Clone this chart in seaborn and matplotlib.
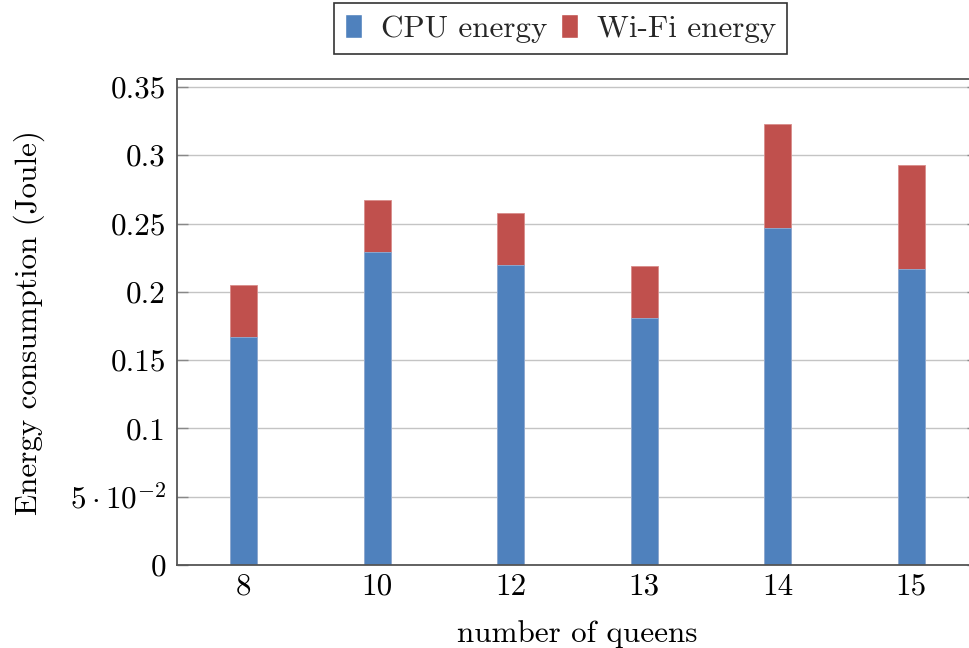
import matplotlib
matplotlib.use("Agg")
import matplotlib.pyplot as plt
import seaborn as sns
import numpy as np
import pandas as pd

# Energy measurements per problem size
queens = ["8", "10", "12", "13", "14", "15"]
cpu_energy = [0.167, 0.229, 0.220, 0.181, 0.247, 0.217]
wifi_energy = [0.038, 0.038, 0.038, 0.038, 0.076, 0.076]

y_ticks = [0, 0.05, 0.1, 0.15, 0.2, 0.25, 0.3, 0.35]
y_tick_labels = ["0", r"$5\cdot10^{-2}$", "0.1", "0.15", "0.2", "0.25", "0.3", "0.35"]

CPU_COLOR = "#4F81BD"
WIFI_COLOR = "#C0504D"
FS = 22.4

sns.set_theme(style="white")
plt.rcParams["font.family"] = ["cmr10", "DejaVu Serif"]
plt.rcParams["mathtext.fontset"] = "cm"
plt.rcParams["axes.unicode_minus"] = False

df = pd.DataFrame({"queens": queens, "cpu": cpu_energy, "wifi": wifi_energy})
df["total"] = df["cpu"] + df["wifi"]

fig = plt.figure(figsize=(9.69, 6.48), dpi=100)
ax = fig.add_axes([177 / 969, 83 / 648, (978 - 177) / 969, (565 - 79.3) / 648])

# Stacked bars: the full stack in red, CPU share drawn over it in blue
sns.barplot(data=df, x="queens", y="total", color=WIFI_COLOR, saturation=1,
            width=0.2, ax=ax, edgecolor="#D98C8A", linewidth=0.6)
sns.barplot(data=df, x="queens", y="cpu", color=CPU_COLOR, saturation=1,
            width=0.2, ax=ax, edgecolor="#8FB0D8", linewidth=0.6)

ax.set_xlim(-0.5, 5.5)
ax.set_ylim(0, 0.3556)
ax.set_yticks(y_ticks)
ax.set_yticklabels(y_tick_labels)

ax.yaxis.grid(True, color="#C4C4C4", linewidth=1.0)
ax.set_axisbelow(True)

for side in ["left", "top", "bottom", "right"]:
    ax.spines[side].set_color("#555555")
    ax.spines[side].set_linewidth(1.3)

ax.tick_params(axis="y", which="major", direction="in", length=8, width=1,
               color="#888888", left=True, right=True, labelsize=FS, pad=8,
               labelcolor="black")
ax.tick_params(axis="x", which="major", length=0, labelsize=FS, pad=6,
               labelcolor="black")

ax.set_xlabel("number of queens", fontsize=FS, labelpad=14, color="black")
ax.set_ylabel("Energy consumption (Joule)", fontsize=FS, labelpad=18, color="black")

handles = [
    matplotlib.patches.Patch(facecolor=CPU_COLOR, label="CPU energy"),
    matplotlib.patches.Patch(facecolor=WIFI_COLOR, label="Wi-Fi energy"),
]
leg = fig.legend(handles=handles, loc="upper center", ncol=2,
                 bbox_to_anchor=(560.5 / 969, 1 - 3 / 648), fontsize=FS,
                 frameon=True, fancybox=False, framealpha=1,
                 handlelength=0.55, handleheight=0.84, handletextpad=0.6,
                 columnspacing=0.45, borderpad=0.35, borderaxespad=0)
leg.get_frame().set_edgecolor("#333333")
leg.get_frame().set_linewidth(1.2)

fig.savefig("out.png", dpi=100)
